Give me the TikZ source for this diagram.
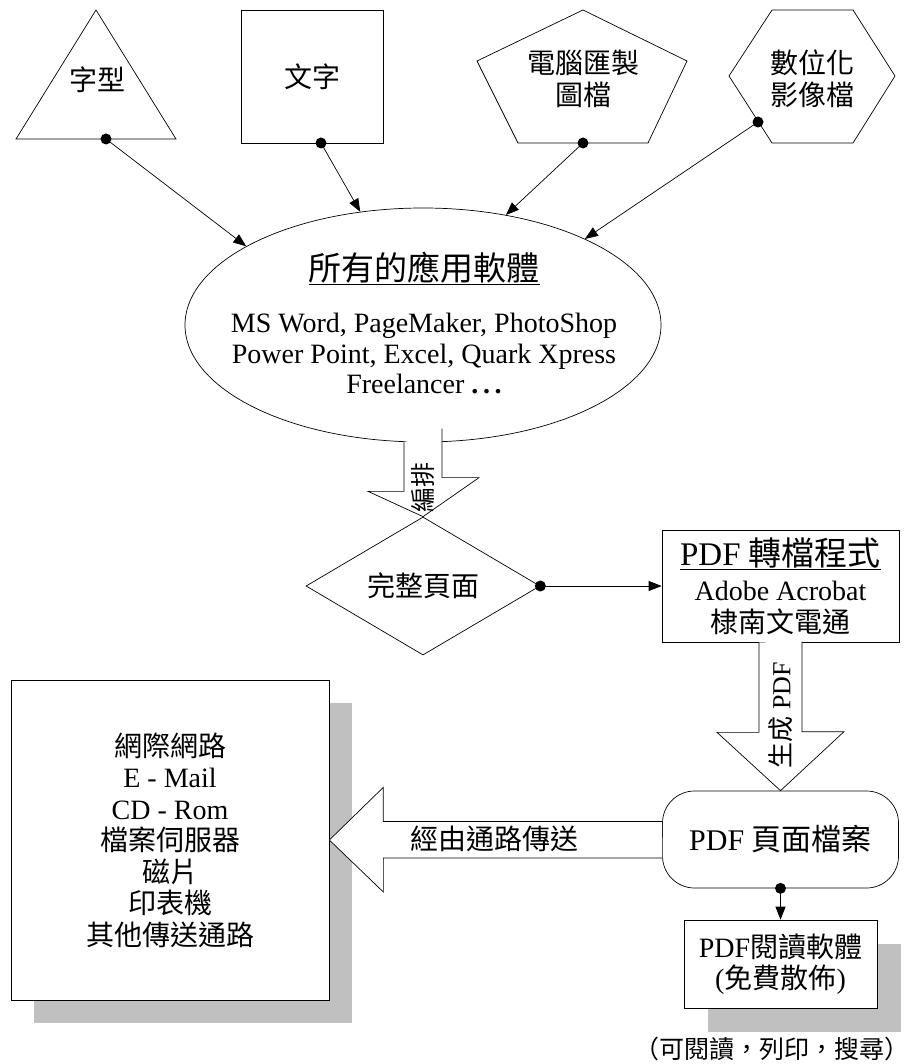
\documentclass[tikz,border=0pt]{standalone}
\usepackage{fontspec}
\setmainfont{Liberation Serif}
\newfontfamily\cjk{Noto Sans CJK TC}
\usetikzlibrary{arrows.meta,shapes.geometric,shadows}
\definecolor{shadowgray}{RGB}{192,192,192}
\tikzset{
  every node/.style={font=\fontsize{28}{31.5}\selectfont,inner sep=0pt},
  zh/.style={font=\fontsize{28}{31.5}\selectfont\cjk},
  srcdot/.style={circle,fill=black,minimum size=11pt},
  flow/.style={-{Triangle[length=13pt,width=10pt]}},
  blockarrow/.style={draw,fill=white},
  boxshadow/.style={general shadow={draw=none,fill=shadowgray,shadow xshift=#1,shadow yshift=-#1}},
}
\begin{document}
\begin{tikzpicture}[x=1pt,y=-1pt,line width=0.7pt]
\useasboundingbox (0,0) rectangle (912,1064);

% sources
\draw (96,10) -- (176,139) -- (16,139) -- cycle;
\node[zh] (type) at (97,80) {字型};
\node[draw,zh,minimum width=142pt,minimum height=133pt] (text) at (312,76.5) {文字};
\draw (583,10) -- (687,61) -- (648,143) -- (518,143) -- (477,61) -- cycle;
\node[zh,align=center] (graph) at (583,79) {電腦匯製\\圖檔};
\draw (772,10) -- (853,10) -- (895,76) -- (853,143) -- (772,143) -- (729,76) -- cycle;
\node[zh,align=center] (scan) at (812,79) {數位化\\影像檔};

\node[srcdot] (d1) at (106,139) {};
\node[srcdot] (d2) at (321,143) {};
\node[srcdot] (d3) at (583,143) {};
\node[srcdot] (d4) at (758,122) {};

% applications
\node[draw,ellipse,minimum width=476pt,minimum height=234pt] (app) at (423,325) {};
\node[align=center,font=\fontsize{28}{30.5}\selectfont] (apptext) at (424,323) {{\fontsize{33}{36}\selectfont\cjk\underline{所有的應用軟體}}\\[22pt]
MS Word, PageMaker, PhotoShop\\Power Point, Excel, Quark Xpress\\Freelancer \textbf{.\,.\,.}};

\draw[flow] (d1.center) -- (app.156);
\draw[flow] (d2.center) -- (app.119);
\draw[flow] (d3.center) -- (app.53);
\draw[flow] (d4.center) -- (app.28);

% page
\node[draw,diamond,zh,minimum width=234pt,minimum height=112pt] (page) at (423,586) {完整頁面};
\draw[blockarrow] (app.south) ++(-19,0) -- ++(0,49) -- ++(-36,0) -- (page.north) -- ++(56,-39) -- ++(-37,0) -- ++(0,-49);
\node[font=\fontsize{25}{28}\selectfont\cjk,rotate=90] (layout) at (423,487) {編排};

\node[draw,minimum width=237pt,minimum height=112pt,align=center] (conv) at (780.5,586) {{\fontsize{33}{36}\selectfont\underline{PDF {\cjk 轉檔程式}}}\\[4pt]
Adobe Acrobat\\{\cjk 棣南文電通}};
\node[srcdot] (d5) at (page.east) {};
\draw[flow] (d5.center) -- (conv.west);

% pdf file
\node[draw,rounded corners=32pt,minimum width=236pt,minimum height=97pt,font=\fontsize{30}{33}\selectfont] (pdf) at (780.5,839.5) {PDF {\cjk 頁面檔案}};
\draw[blockarrow] (conv.south) ++(-21.5,0) -- ++(0,90) -- ++(-42,0) -- (pdf.north) -- ++(63.5,-59) -- ++(-42,0) -- ++(0,-90);
\node[font=\fontsize{26}{28}\selectfont,rotate=90] (gen) at (780.5,715) {{\cjk 生成} PDF};

% channels
\node[draw,fill=white,boxshadow=23pt,minimum width=318pt,minimum height=320pt,align=center] (net) at (170,840)
  {{\cjk 網際網路}\\E - Mail\\CD - Rom\\{\cjk 檔案伺服器}\\{\cjk 磁片}\\{\cjk 印表機}\\{\cjk 其他傳送通路}};
\draw[blockarrow] (pdf.west) ++(0,-18) -- ++(-279,0) -- ++(0,-34) -- (net.east) -- ++(54,52) -- ++(0,-34) -- ++(279,0);
\node[zh] (route) at (494,839) {經由通路傳送};

% reader
\node[draw,fill=white,boxshadow=24pt,minimum width=193pt,minimum height=88pt,align=center] (reader) at (780.5,964)
  {PDF{\cjk 閱讀軟體}\\({\cjk 免費散佈})};
\node[srcdot] (d6) at (pdf.south) {};
\draw[flow] (d6.center) -- (reader.north);
\node[font=\fontsize{25}{28}\selectfont\cjk] (note) at (772,1049) {（可閱讀，列印，搜尋）};
\end{tikzpicture}
\end{document}
